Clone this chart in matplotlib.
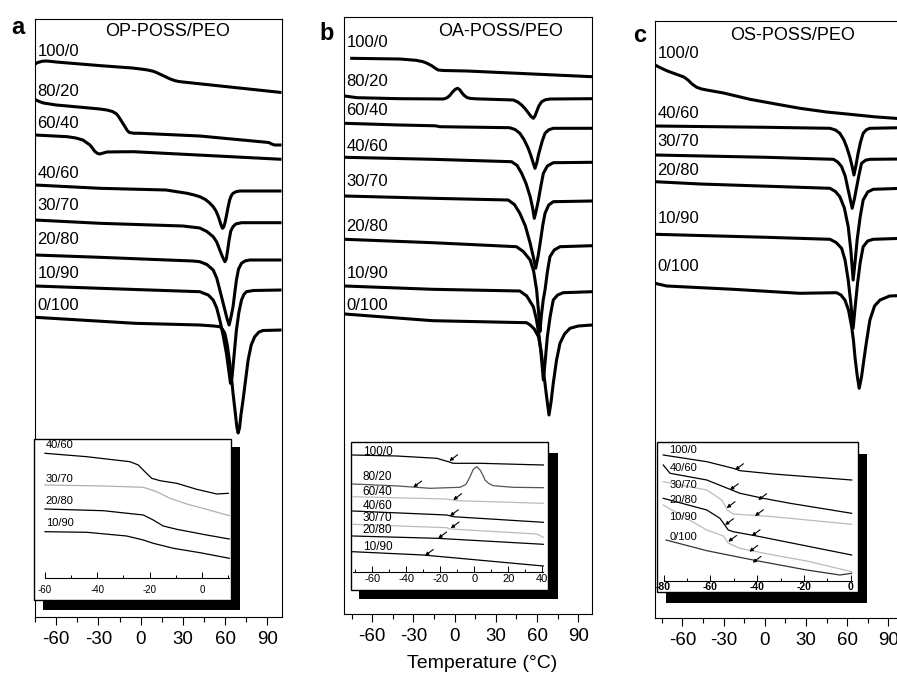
import matplotlib
matplotlib.use('Agg')
import matplotlib.pyplot as plt
from matplotlib.ticker import MultipleLocator, FixedLocator
from matplotlib.patches import Rectangle
import matplotlib.transforms as mtransforms

W, H = 897, 677
plt.rcParams['font.family'] = ['Liberation Sans', 'DejaVu Sans']
plt.rcParams['axes.unicode_minus'] = False

# ------------------------------------------------------------------
# DATA  (T in °C ; heat flow in arbitrary units, endotherm downward)
# ------------------------------------------------------------------
labels_a = ['100/0', '80/20', '60/40', '40/60', '30/70', '20/80', '10/90', '0/100']
a_100_0_T = [-75, -73, -70, -67, -63, -60, -30, -6, 0, 5, 9, 12, 15, 18, 21, 24, 27, 30, 60, 80, 100]
a_100_0_h = [64, 62.5, 61.3, 61, 61.5, 62, 65.5, 68, 69, 70, 71.3, 73, 75, 77, 79, 80.5, 81.5, 82, 86.5, 89.5, 92.5]
a_80_20_T = [-75, -72, -69, -60, -52, -29, -24, -20, -17, -15, -13, -11, -9.5, -8, -5, 0, 42, 91, 93, 95, 100]
a_80_20_h = [99.5, 101.5, 103, 105, 106, 109, 110, 111.5, 114, 118, 122.5, 127, 130.5, 132.5, 133.2, 133.3, 136, 142.5, 144, 145, 145]
a_60_40_T = [-75, -52, -46, -41, -38.5, -36, -34, -32.5, -30.5, -29, -26.5, -24, -15, -5, 100]
a_60_40_h = [135, 136.7, 138, 140, 142.5, 145, 148.5, 151.5, 153.5, 154, 153, 152, 151.8, 151.7, 159.3]
a_40_60_T = [-75, -29, 18, 33, 38, 42, 46, 49, 51.5, 53.5, 55, 56.2, 57.2, 58.1, 59, 60, 61, 62.1, 63.2, 64.4, 65.6, 67.5, 70.4, 100]
a_40_60_h = [185, 188.3, 190, 193.3, 195, 196.7, 199.5, 203, 206.7, 211, 216, 221, 225.5, 228.3, 227, 222, 215, 207, 200, 195.5, 193.3, 191.8, 191, 191]
a_30_70_T = [-75, -29, 30, 42, 47, 51.5, 54, 56.2, 58, 59.8, 60.8, 61.8, 62.8, 64, 65.6, 67.5, 71.6, 100]
a_30_70_h = [220, 223.3, 226, 228, 231.5, 236.7, 242, 250, 256.5, 261.7, 259, 250, 240, 231, 226.7, 224, 222.7, 222.7]
a_20_80_T = [-75, -29, 37, 42, 47, 51.5, 54, 56.2, 58, 59.8, 61.5, 62.8, 64, 65.6, 66.8, 68, 69.5, 71.6, 74, 77.5, 100]
a_20_80_h = [255, 257.3, 261, 261.7, 264.5, 270, 278, 290, 300, 310, 319.5, 325, 318, 306.7, 293, 280, 269, 263.3, 261, 260, 260]
a_10_90_T = [-75, -29, 42, 48, 51.5, 54, 56.2, 58.5, 60.9, 62.5, 63.8, 64.8, 65.6, 66.8, 68, 69.8, 71.6, 73.3, 75.1, 80, 100]
a_10_90_h = [286, 288.3, 291.7, 295, 300, 308, 320, 335, 353.3, 370, 383.3, 378, 366.7, 348, 330, 312, 300, 294.5, 291.7, 290.5, 290]
a_0_100_T = [-75, -4, 42, 52, 56.2, 58, 59.8, 61.5, 63.3, 64.5, 65.6, 67.2, 68.3, 69.2, 70.2, 71.2, 72.7, 74.5, 76.3, 78.5, 81, 84, 86.9, 100]
a_0_100_h = [317.3, 323.3, 325, 326, 326.7, 329, 333.3, 345, 363.3, 378, 393.3, 413, 427, 433, 428, 415, 400, 380, 360, 345, 336.7, 332, 330.5, 330]
a_T = [a_100_0_T, a_80_20_T, a_60_40_T, a_40_60_T, a_30_70_T, a_20_80_T, a_10_90_T, a_0_100_T]
a_h = [a_100_0_h, a_80_20_h, a_60_40_h, a_40_60_h, a_30_70_h, a_20_80_h, a_10_90_h, a_0_100_h]
a_label_h = [52, 91, 123, 173, 205, 239, 273, 306]

labels_b = ['100/0', '80/20', '60/40', '40/60', '30/70', '20/80', '10/90', '0/100']
b_100_0_T = [-76, -40, -28, -23, -20, -16.7, -14, -12, -8, 9, 57, 100]
b_100_0_h = [58.3, 59, 60.3, 61.7, 63.3, 65.7, 68.3, 70, 70.5, 71, 74, 76.7]
b_80_20_T = [-80, -71, -40, -8, -5.5, -3.5, -1.5, 0.5, 2.2, 3.8, 5.3, 7, 9, 11, 15, 42.7, 46, 48.8, 51.5, 54, 55.5, 57.3, 58.5, 59.7, 61.3, 63.4, 66, 69.5, 100]
b_80_20_h = [96, 97.7, 98.7, 99, 97.8, 95.5, 92, 89.3, 88.3, 89.8, 92.8, 95.5, 97.5, 98.3, 98.8, 100, 102, 105, 109, 113.5, 116.3, 118.3, 116, 111.7, 106, 101.7, 99.8, 99, 98.7]
b_60_40_T = [-80, -40, -14, -10.7, 40, 44, 47.5, 50.5, 53.6, 55.5, 57, 58.5, 59.8, 61, 62, 63.8, 65.8, 68.5, 71.8, 100]
b_60_40_h = [123.3, 125, 125.8, 126.7, 127.7, 129.5, 133.3, 139.5, 148.3, 155.5, 162, 168.3, 163, 155, 150, 141, 133.3, 129.8, 128.3, 128.3]
b_40_60_T = [-80, -16, 41.5, 45.5, 48.8, 52, 55, 56.8, 58, 59.5, 61, 62.8, 64.6, 67.5, 71.8, 100]
b_40_60_h = [157.3, 159.3, 161.7, 165.5, 173.3, 183.5, 196.7, 208, 218.3, 210, 200, 186, 173.3, 166, 162.7, 162.3]
b_30_70_T = [-80, -16, 39, 43.5, 47.5, 51.5, 55, 57.3, 59, 60.8, 62.6, 64.2, 65.8, 68.5, 71.8, 100]
b_30_70_h = [196, 198.3, 200, 204.5, 213.3, 226, 243.3, 257, 268.3, 256, 240, 225, 213.3, 205, 201.7, 201]
b_20_80_T = [-80, -16, 45, 50, 55, 57.5, 59.7, 61, 62.1, 63.2, 64.5, 65.8, 67.5, 69.4, 72.5, 76.7, 100]
b_20_80_h = [239.3, 242.7, 246.7, 251.5, 260, 271, 290, 310, 331.7, 315, 300, 290, 272, 256.7, 250, 246.7, 245.7]
b_10_90_T = [-80, -16, 47.5, 52.5, 57.3, 59.5, 61.6, 63.2, 64.6, 66, 67.5, 69.6, 71.8, 75, 79, 100]
b_10_90_h = [286, 289.3, 291, 296, 306.7, 319, 336.7, 358, 380, 360, 336.7, 316, 300, 295, 292.7, 291.7]
b_0_100_T = [-80, -16, 52.4, 55, 58, 61, 62.9, 64.6, 66.8, 68.7, 70.2, 71.8, 74.2, 76.7, 80, 84, 90, 100]
b_0_100_h = [314, 320.7, 322.7, 325, 329, 336.7, 350, 370, 395, 415, 402, 383.3, 360, 343.3, 334, 328.3, 326, 325]
b_T = [b_100_0_T, b_80_20_T, b_60_40_T, b_40_60_T, b_30_70_T, b_20_80_T, b_10_90_T, b_0_100_T]
b_h = [b_100_0_h, b_80_20_h, b_60_40_h, b_40_60_h, b_30_70_h, b_20_80_h, b_10_90_h, b_0_100_h]
b_label_h = [42.7, 81.7, 110.7, 146.7, 181.7, 226.7, 273.3, 305]

labels_c = ['100/0', '40/60', '30/70', '20/80', '10/90', '0/100']
c_100_0_T = [-80, -76, -71.5, -64, -59, -56, -53, -49.6, -46, -42.3, -30, -10.8, 8, 25.6, 45, 62, 80, 100]
c_100_0_h = [65, 67.8, 70.7, 74.5, 77, 80, 84, 87.3, 89, 90, 93, 99.3, 104, 108.3, 112, 114.3, 116.8, 118.8]
c_40_60_T = [-80, 1.4, 47.5, 51.5, 54.7, 57.5, 59.6, 62, 63.6, 65, 66.5, 68, 69.8, 71.7, 74, 76.6, 100]
c_40_60_h = [126, 127.3, 128.3, 130, 133.3, 139.5, 146.7, 157, 166, 175, 165, 153.3, 142, 133.3, 129.8, 128.3, 127.7]
c_30_70_T = [-80, 1.4, 50, 53.2, 56, 58.6, 60.8, 62.3, 63.7, 65.3, 67, 68.8, 70.5, 73.5, 76.6, 100]
c_30_70_h = [155, 157.3, 159.3, 162, 166.7, 176, 190, 199.5, 208.3, 199, 186.7, 174, 163.3, 160.2, 159.3, 159]
c_20_80_T = [-80, -47, 47.5, 51.5, 54.7, 58, 60.8, 62.7, 64.4, 65.8, 67.3, 69.5, 71.7, 75, 79, 100]
c_20_80_h = [181.7, 184, 188.3, 191.5, 196.7, 208, 226.7, 250, 280, 262, 240, 217, 200, 192, 189.3, 188.3]
c_10_90_T = [-80, 1.4, 47.5, 52, 56, 58.5, 60.8, 62.7, 64.4, 66, 67.6, 69.6, 71.7, 75, 79, 100]
c_10_90_h = [234.3, 237.3, 239.3, 242.5, 248.3, 260, 280, 303, 328.3, 305, 283.3, 262, 246.7, 241, 239.3, 238.3]
c_0_100_T = [-80, -71.5, -23, 25.6, 52.3, 55.5, 58.4, 61, 63.3, 64.6, 65.7, 67.3, 68.8, 70.5, 72.2, 74.3, 76.6, 80, 84, 91, 100]
c_0_100_h = [283.3, 286, 289.3, 293.3, 292.7, 295, 300, 310, 326.7, 340, 356.7, 375, 388.3, 377, 360, 340, 320, 306, 300, 296, 295.5]
c_T = [c_100_0_T, c_40_60_T, c_30_70_T, c_20_80_T, c_10_90_T, c_0_100_T]
c_h = [c_100_0_h, c_40_60_h, c_30_70_h, c_20_80_h, c_10_90_h, c_0_100_h]
c_label_h = [53.3, 113.3, 141.7, 170.7, 218.3, 266.7]

# ---- insets (glass transition region) ----
ia_labels = ['40/60', '30/70', '20/80', '10/90']
ia_T = [[-60, -44, -27.5, -24.3, -21.8, -19.2, -16, -9.6, -2, 5.7, 10.1],
        [-60, -37.7, -22.4, -17.3, -12.2, -5.8, 1.8, 10.5],
        [-60, -37.7, -22.4, -18.6, -14.8, -9.6, 1.8, 10.5],
        [-60, -44, -28.8, -22.4, -18.6, -10.9, -0.7, 10.5]]
ia_h = [[453.3, 456.7, 461.7, 465, 471.7, 478.3, 480.7, 483.3, 489.3, 494, 493.3],
        [485, 486, 487.3, 491.7, 498.3, 504, 509.3, 515.7],
        [509, 510.7, 515, 520, 526, 529.3, 535, 539],
        [531.7, 532.3, 536, 540, 543.3, 548.3, 552.7, 558.3]]
ia_colors = ['black', '#b0b0b0', 'black', 'black']
ia_label_h = [445, 479.3, 501, 523.3]

ib_labels = ['100/0', '80/20', '60/40', '40/60', '30/70', '20/80', '10/90']
ib_T = [[-71.5, -45.6, -22.1, -15.3, -12.4, 3.4, 40.6],
        [-71.5, -45.6, -26, -8.4, -5, -3.5, -1.8, -0.6, 1.4, 3.4, 5, 6.3, 8.5, 11.2, 22.9, 40.6],
        [-71.5, -16.2, -10.3, 40.6],
        [-71.5, -16.2, -12.3, 40.6],
        [-71.5, -16.2, -14.3, 36.7, 40.6],
        [-71.5, -22.1, 40.6],
        [-71.5, -30.1, 40.6]]
ib_h = [[455, 456, 458.3, 461.7, 463.3, 463.3, 465],
        [484, 485.9, 488.3, 487.3, 484.5, 480, 474, 469.3, 466.7, 470, 475, 480, 483.5, 485.7, 487.3, 487.7],
        [496.7, 499, 500.7, 503.3],
        [511, 515, 516.7, 522.3],
        [524.3, 527.7, 529, 534, 537.3],
        [536, 538.3, 544.3],
        [551.7, 555, 566]]
ib_colors = ['black', '#555555', '#bbbbbb', 'black', '#bbbbbb', 'black', 'black']
ib_label_h = [451.7, 476.7, 491.7, 506, 518.3, 530, 546.7]
ib_arrow_T = [-14.7, -35.9, -12.4, -14.3, -13.9, -21.2, -29]
ib_arrow_h = [461, 487.3, 500, 516, 528.3, 538.3, 555.7]

ic_labels = ['100/0', '40/60', '30/70', '20/80', '10/90', '0/100']
ic_T = [[-80.1, -61.5, -50.2, -47.3, -33.1, 0.4],
        [-80.1, -77.2, -61.5, -51.6, -47.3, -37.4, -25.9, 0.4],
        [-80.1, -61.5, -55.1, -52.7, -50.2, -33.1, 0.4],
        [-80.1, -61.5, -55.9, -52.3, -50.2, -40.2, 0.4],
        [-80.1, -61.5, -54.4, -52.3, -47.3, -33.1, -18.8, 0.4],
        [-78.9, -61.5, -40.2, -18.8, -4.6, 0.4]]
ic_h = [[455, 461.7, 468.3, 470.7, 474, 480],
        [465, 473.3, 480, 489.3, 493.3, 498.3, 503.3, 513.3],
        [481.7, 490, 500, 510, 514, 516.7, 524.3],
        [498.3, 510, 518.3, 530, 531.7, 536, 555],
        [505, 530, 536, 543.3, 548.3, 555, 561, 571.7],
        [540, 550.7, 560.7, 570, 575, 573.3]]
ic_colors = ['black', 'black', '#bbbbbb', 'black', '#bbbbbb', '#333333']
ic_label_h = [450, 468.3, 485, 500, 516.7, 536.7]
ic_arrow_T = [-49.4, -51.6, -39.5, -53, -40.9, -53.7, -42.3, -52.3, -43.3, -41.9]
ic_arrow_h = [470, 490, 500, 508, 516, 525, 536, 541.7, 551.7, 562.7]

# ------------------------------------------------------------------
fig = plt.figure(figsize=(W / 100, H / 100), dpi=100)
fig.patch.set_facecolor('white')


def rect(l, t, r, b):
    return [l / W, 1 - b / H, (r - l) / W, (b - t) / H]


def main_panel(box, xlim, Ts, hs, labels, label_h, title, title_xy, letter, letter_xy):
    l, t, r, b = box
    ax = fig.add_axes(rect(l, t, r, b))
    ax.set_xlim(*xlim)
    ax.set_ylim(b, t)
    for T, h in zip(Ts, hs):
        ax.plot(T, h, color='black', lw=2.2, solid_capstyle='butt', solid_joinstyle='round')
    tr = mtransforms.blended_transform_factory(ax.transAxes, ax.transData)
    for lab, y in zip(labels, label_h):
        ax.text(0.01, y, lab, transform=tr, fontsize=12, ha='left', va='center')
    ax.set_yticks([])
    ax.xaxis.set_major_locator(FixedLocator([-60, -30, 0, 30, 60, 90]))
    ax.xaxis.set_minor_locator(MultipleLocator(15))
    ax.tick_params(axis='x', which='major', direction='out', length=6, width=0.8,
                   labelsize=13.5, pad=4)
    ax.tick_params(axis='x', which='minor', direction='out', length=3.5, width=0.8)
    for s in ax.spines.values():
        s.set_linewidth(0.8)
    fig.text(title_xy[0] / W, 1 - title_xy[1] / H, title, fontsize=13, ha='center', va='center')
    fig.text(letter_xy[0] / W, 1 - letter_xy[1] / H, letter, fontsize=17, fontweight='bold',
             ha='center', va='center')
    return ax


def inset(box, shadow, T0, px0, scale, axis_y, bounds, majors, minors,
          Ts, hs, colors, labels, label_h, label_fs, tick_fs, tick_bold, tick_pad,
          arrow_T=None, arrow_h=None):
    sh = fig.add_axes(rect(*shadow))
    sh.set_facecolor('black')
    sh.set_xticks([]); sh.set_yticks([])
    for s in sh.spines.values():
        s.set_visible(False)
    l, t, r, b = box
    ia = fig.add_axes(rect(l, t, r, b))
    ia.set_facecolor('white')
    ia.set_xlim((l - px0) / scale + T0, (r - px0) / scale + T0)
    ia.set_ylim(b, t)
    ia.add_patch(Rectangle((0, 0), 1, 1, transform=ia.transAxes, fill=False,
                           edgecolor='black', lw=1.0, clip_on=False))
    for k in ['top', 'left', 'right']:
        ia.spines[k].set_visible(False)
    ia.spines['bottom'].set_position(('data', axis_y))
    ia.spines['bottom'].set_bounds(*bounds)
    ia.spines['bottom'].set_linewidth(0.8)
    ia.set_yticks([])
    ia.xaxis.set_major_locator(FixedLocator(majors))
    ia.xaxis.set_minor_locator(FixedLocator(minors))
    ia.tick_params(axis='x', which='major', direction='in', length=4, width=0.7,
                   labelsize=tick_fs, pad=tick_pad)
    ia.tick_params(axis='x', which='minor', direction='in', length=2.5, width=0.7)
    if tick_bold:
        for tl in ia.get_xticklabels():
            tl.set_fontweight('bold')
    for T, h, c in zip(Ts, hs, colors):
        ia.plot(T, h, color=c, lw=0.9)
    tr = mtransforms.blended_transform_factory(ia.transAxes, ia.transData)
    for lab, y in zip(labels, label_h):
        ia.text(0.06, y, lab, transform=tr, fontsize=label_fs, ha='left', va='center')
    if arrow_T is not None:
        for T, h in zip(arrow_T, arrow_h):
            ia.annotate('', xy=(T, h), xytext=(6, 4.5), textcoords='offset points',
                        arrowprops=dict(arrowstyle='-|>', color='black', lw=0.8,
                                        mutation_scale=5, shrinkA=0, shrinkB=0))
    return ia


# ---- main panels ----
main_panel((35, 19, 281.5, 617), (-75, 100), a_T, a_h, labels_a, a_label_h,
           'OP-POSS/PEO', (168, 32), 'a', (18, 27))
main_panel((344, 17, 592, 614), (-80.5, 100), b_T, b_h, labels_b, b_label_h,
           'OA-POSS/PEO', (501, 32), 'b', (327, 33))
main_panel((655, 21, 902, 618), (-80, 100), c_T, c_h, labels_c, c_label_h,
           'OS-POSS/PEO', (793, 35), 'c', (640, 36))
fig.text(482 / W, 1 - 663 / H, 'Temperature (°C)', fontsize=14, ha='center', va='center')

# ---- insets ----
inset((34, 439.3, 230.7, 600), (43, 447, 240, 610), -60, 45, 2.615, 578.3, (-60, 10.5),
      [-60, -40, -20, 0], [-50, -30, -10, 10], ia_T, ia_h, ia_colors, ia_labels, ia_label_h,
      8, 7, False, 5)
inset((350.7, 441.7, 548.3, 590), (359, 453, 558, 599), 0, 474.3, 1.7, 571.7, (-71.5, 40.6),
      [-60, -40, -20, 0, 20, 40], [-70, -50, -30, -10, 10, 30], ib_T, ib_h, ib_colors,
      ib_labels, ib_label_h, 8.5, 8, False, 1.5, ib_arrow_T, ib_arrow_h)
inset((657.3, 441.7, 858.3, 592), (666, 454, 867, 603), 0, 850.7, 2.34, 581, (-80, 0.4),
      [-80, -60, -40, -20, 0], [-70, -50, -30, -10], ic_T, ic_h, ic_colors,
      ic_labels, ic_label_h, 8, 7.5, True, 1.0, ic_arrow_T, ic_arrow_h)

fig.savefig('out.png', dpi=100, facecolor='white')
